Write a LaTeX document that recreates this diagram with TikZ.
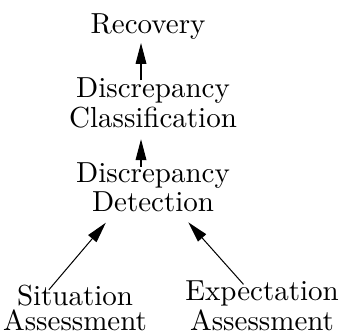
\documentclass[tikz,border=0pt]{standalone}
\usetikzlibrary{arrows.meta}
\begin{document}
\begin{tikzpicture}[x=0.345pt,y=-0.345pt,
  lbl/.style={inner sep=0pt,align=center,font=\fontsize{10}{8.3}\selectfont},
  arr/.style={line width=0.35pt,-{Triangle[length=7.2pt,width=3.7pt]}}]
  \useasboundingbox (0,0) rectangle (343,334);
  % anchor=base sits on the last line of each label
  \node[lbl,anchor=base] (rec) at (148,33) {Recovery};
  \node[lbl,anchor=base] (cls) at (153,127) {Discrepancy\\Classification};
  \node[lbl,anchor=base] (det) at (153,211) {Discrepancy\\Detection};
  \node[lbl,anchor=base] (sit) at (75,330) {Situation\\Assessment};
  \node[lbl,anchor=base] (exp) at (262,330) {Expectation\\Assessment};
  \draw[arr,shorten <=-1pt,shorten >=1.2pt]
    ([xshift=-12*0.345pt]cls.north) -- ([xshift=-7*0.345pt]rec.south);
  \draw[arr,shorten <=-1.7pt,shorten >=3.8pt]
    ([xshift=-12*0.345pt]det.north) -- ([xshift=-12*0.345pt]cls.south);
  \draw[arr,shorten <=-2.2pt,shorten >=4.9pt]
    ([xshift=-22*0.345pt]sit.north) -- ([xshift=-38*0.345pt]det.south);
  \draw[arr,shorten <=-1.8pt,shorten >=4.8pt]
    ([xshift=-22*0.345pt]exp.north) -- ([xshift=26*0.345pt]det.south);
\end{tikzpicture}
\end{document}
